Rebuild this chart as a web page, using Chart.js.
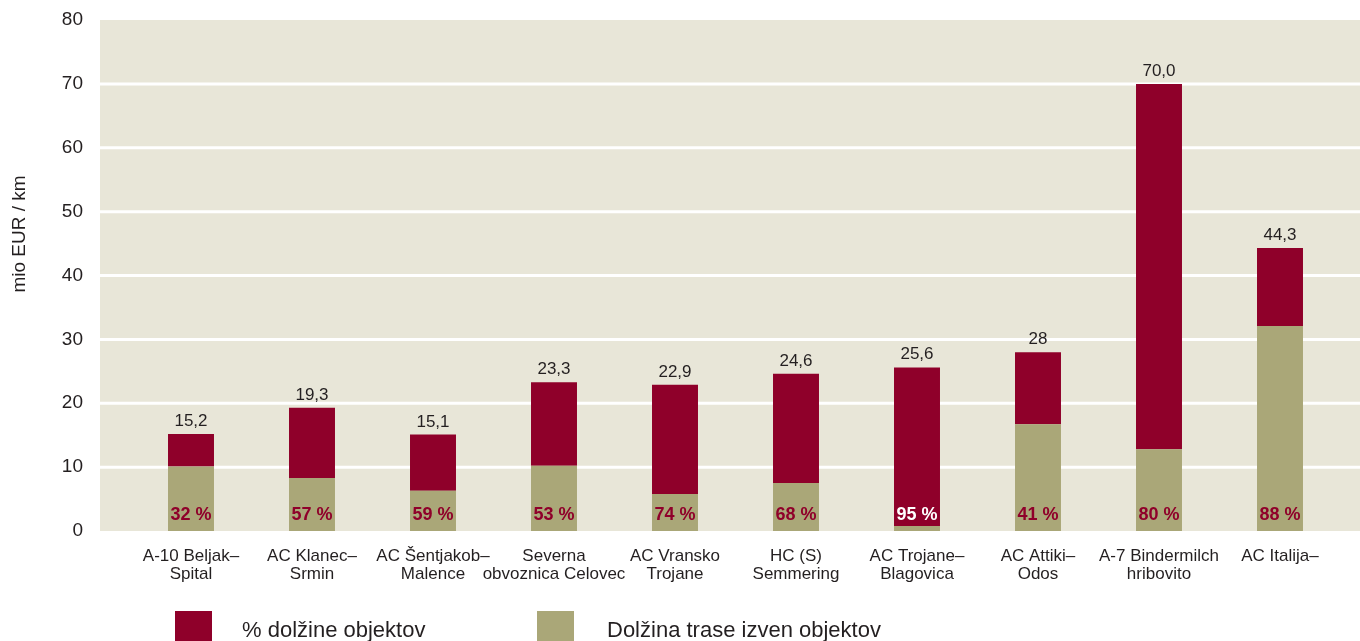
<!DOCTYPE html>
<html>
<head>
<meta charset="utf-8">
<title>Stroški gradnje na km</title>
<script src="https://cdn.jsdelivr.net/npm/chart.js@4/dist/chart.umd.min.js"></script>
<style>
  html, body { margin: 0; padding: 0; background: #ffffff; }
  #wrap { width: 1360px; height: 641px; position: relative; }
</style>
</head>
<body>
<div id="wrap"><canvas id="c" width="1360" height="641"></canvas></div>
<script>
// Road sections (two-line labels)
const categories = [
  ['A-10 Beljak–', 'Spital'],
  ['AC Klanec–', 'Srmin'],
  ['AC Šentjakob–', 'Malence'],
  ['Severna', 'obvoznica Celovec'],
  ['AC Vransko', 'Trojane'],
  ['HC (S)', 'Semmering'],
  ['AC Trojane–', 'Blagovica'],
  ['AC Attiki–', 'Odos'],
  ['A-7 Bindermilch', 'hribovito'],
  ['AC Italija–']
];

// Total cost per km (mio EUR / km) and its printed label
const totalLabels = ['15,2', '19,3', '15,1', '23,3', '22,9', '24,6', '25,6', '28', '70,0', '44,3'];

// Stacked parts: route outside structures (bottom) and structures (top)
const outsideLength = [10.1, 8.3, 6.3, 10.2, 5.8, 7.5, 0.8, 16.7, 12.8, 32.1];
const structuresPart = [5.1, 11.0, 8.8, 13.1, 17.1, 17.1, 24.8, 11.3, 57.2, 12.2];

// Share of route length on structures
const shareLabels = ['32 %', '57 %', '59 %', '53 %', '74 %', '68 %', '95 %', '41 %', '80 %', '88 %'];

const yTicks = [0, 10, 20, 30, 40, 50, 60, 70, 80];

const seriesNames = ['Dolžina trase izven objektov', '% dolžine objektov'];
const axisTitle = 'mio EUR / km';

const RED = '#8f002a';
const OLIVE = '#aaa778';
const PANEL = '#e8e6d8';
const INK = '#231f20';
const FONT = "'Liberation Sans', Arial, Helvetica, sans-serif";

// Beige panel with white horizontal rules, wider than the category band
const panel = {
  id: 'panel',
  beforeDraw(chart) {
    const { ctx, scales: { y } } = chart;
    const top = y.getPixelForValue(yTicks[yTicks.length - 1]);
    const bottom = y.getPixelForValue(0);
    ctx.save();
    ctx.fillStyle = PANEL;
    ctx.fillRect(100, top, chart.width - 100, bottom - top);
    ctx.strokeStyle = '#ffffff';
    ctx.lineWidth = 3;
    yTicks.slice(1, -1).forEach(v => {
      const py = y.getPixelForValue(v);
      ctx.beginPath();
      ctx.moveTo(100, py);
      ctx.lineTo(chart.width, py);
      ctx.stroke();
    });
    ctx.restore();
  }
};

// Totals above the bars, shares at the foot of each bar
const barLabels = {
  id: 'barLabels',
  afterDatasetsDraw(chart) {
    const { ctx, scales: { y } } = chart;
    const base = y.getPixelForValue(0);
    const lower = chart.getDatasetMeta(0).data;
    const upper = chart.getDatasetMeta(1).data;
    ctx.save();
    ctx.textAlign = 'center';
    ctx.textBaseline = 'alphabetic';
    ctx.font = `17px ${FONT}`;
    ctx.fillStyle = INK;
    upper.forEach((bar, i) => ctx.fillText(totalLabels[i], bar.x, bar.y - 8));
    ctx.font = `bold 18px ${FONT}`;
    lower.forEach((bar, i) => {
      const h = base - bar.y;
      ctx.fillStyle = h < 22 ? '#ffffff' : RED;
      ctx.fillText(shareLabels[i], bar.x, base - 11);
    });
    ctx.restore();
  }
};

// Rotated value-axis title and the legend row
const decorations = {
  id: 'decorations',
  afterDraw(chart) {
    const { ctx } = chart;
    ctx.save();
    ctx.fillStyle = INK;
    ctx.font = `19px ${FONT}`;
    ctx.textAlign = 'center';
    ctx.textBaseline = 'middle';
    ctx.translate(20, 234);
    ctx.rotate(-Math.PI / 2);
    ctx.fillText(axisTitle, 0, 0);
    ctx.restore();

    const items = [
      { ds: chart.data.datasets[1], box: 175, text: 242 },
      { ds: chart.data.datasets[0], box: 537, text: 607 }
    ];
    ctx.save();
    ctx.font = `22px ${FONT}`;
    ctx.textBaseline = 'alphabetic';
    ctx.textAlign = 'left';
    items.forEach(it => {
      ctx.fillStyle = it.ds.backgroundColor;
      ctx.fillRect(it.box, 611, 37, 37);
      ctx.fillStyle = INK;
      ctx.fillText(it.ds.label, it.text, 637);
    });
    ctx.restore();
  }
};

new Chart(document.getElementById('c'), {
  type: 'bar',
  data: {
    labels: categories,
    datasets: [
      {
        label: seriesNames[0],
        data: outsideLength,
        backgroundColor: OLIVE,
        barPercentage: 1,
        categoryPercentage: 0.38
      },
      {
        label: seriesNames[1],
        data: structuresPart,
        backgroundColor: RED,
        barPercentage: 1,
        categoryPercentage: 0.38
      }
    ]
  },
  options: {
    responsive: false,
    animation: false,
    layout: { padding: { top: 20, right: 19.5, left: 0, bottom: 0 } },
    plugins: {
      legend: { display: false },
      tooltip: { enabled: false }
    },
    scales: {
      x: {
        stacked: true,
        grid: { display: false, drawTicks: false },
        border: { display: false },
        ticks: {
          color: INK,
          font: { family: FONT, size: 17, lineHeight: 1.03 },
          padding: 17,
          maxRotation: 0,
          autoSkip: false
        },
        afterFit(scale) { scale.height = 110; }
      },
      y: {
        stacked: true,
        min: 0,
        max: 80,
        afterBuildTicks(scale) { scale.ticks = yTicks.map(v => ({ value: v })); },
        grid: { display: false, drawTicks: false },
        border: { display: false },
        ticks: {
          color: INK,
          font: { family: FONT, size: 19 },
          padding: 47.5
        },
        afterFit(scale) {
          scale.width = 130.5;
          scale.paddingTop = 0;
          scale.paddingBottom = 0;
        }
      }
    }
  },
  plugins: [panel, barLabels, decorations]
});
</script>
</body>
</html>
